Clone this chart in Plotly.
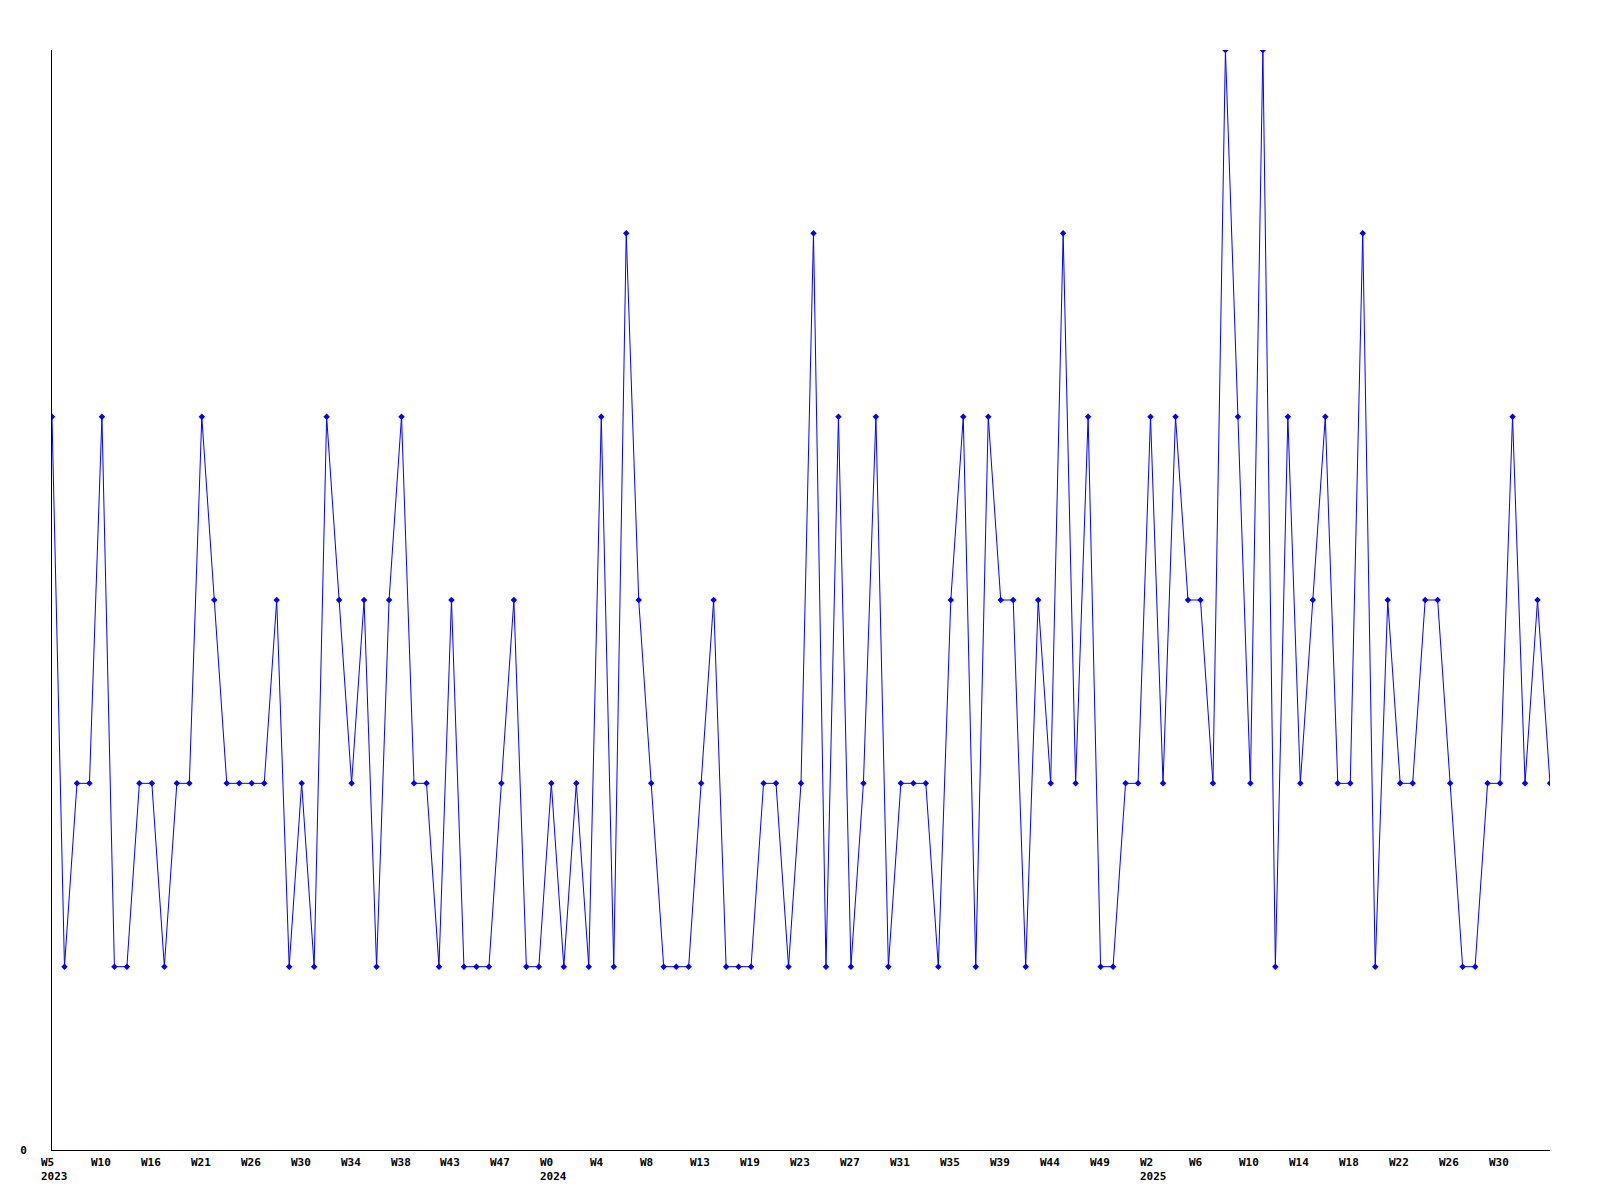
import plotly.graph_objects as go

values = [4, 1, 2, 2, 4, 1, 1, 2, 2, 1,
          2, 2, 4, 3, 2, 2, 2, 2, 3, 1,
          2, 1, 4, 3, 2, 3, 1, 3, 4, 2,
          2, 1, 3, 1, 1, 1, 2, 3, 1, 1,
          2, 1, 2, 1, 4, 1, 5, 3, 2, 1,
          1, 1, 2, 3, 1, 1, 1, 2, 2, 1,
          2, 5, 1, 4, 1, 2, 4, 1, 2, 2,
          2, 1, 3, 4, 1, 4, 3, 3, 1, 3,
          2, 5, 2, 4, 1, 1, 2, 2, 4, 2,
          4, 3, 3, 2, 6, 4, 2, 6, 1, 4,
          2, 3, 4, 2, 2, 5, 1, 3, 2, 2,
          3, 3, 2, 1, 1, 2, 2, 4, 2, 3,
          2]
x_index = list(range(len(values)))

week_labels = ["W5", "W10", "W16", "W21", "W26", "W30", "W34", "W38", "W43", "W47",
               "W0", "W4", "W8", "W13", "W19", "W23", "W27", "W31", "W35", "W39",
               "W44", "W49", "W2", "W6", "W10", "W14", "W18", "W22", "W26", "W30"]
year_labels = {0: "2023", 10: "2024", 22: "2025"}
label_step = 4  # points between consecutive labels

FONT = dict(family="DejaVu Sans Mono", size=11, color="black", weight="bold")

fig = go.Figure()
fig.add_trace(go.Scatter(
    x=x_index, y=values, mode="lines+markers",
    line=dict(color="#0000ff", width=1),
    marker=dict(symbol="diamond", size=5, color="#0000ff"),
    showlegend=False, hoverinfo="skip",
))

for i, lab in enumerate(week_labels):
    text = lab + ("<br>" + year_labels[i] if i in year_labels else "")
    fig.add_annotation(
        x=i * label_step, y=0, xref="x", yref="paper",
        text=text, showarrow=False, xanchor="left", yanchor="top",
        align="left", xshift=-13, yshift=-4, font=FONT,
    )

fig.update_layout(
    width=1600, height=1200,
    margin=dict(l=42, r=58, t=42, b=58, pad=0),
    paper_bgcolor="white", plot_bgcolor="white",
    font=FONT,
)
fig.update_xaxes(
    range=[0, len(values) - 1], showgrid=False, zeroline=False,
    showline=True, linecolor="black", linewidth=1,
    showticklabels=False, ticks="",
)
fig.update_yaxes(
    range=[0, 6], showgrid=False, zeroline=False,
    showline=True, linecolor="black", linewidth=1,
    tickvals=[0], ticktext=["0"], ticks="outside", ticklen=22,
    tickcolor="rgba(0,0,0,0)", tickfont=FONT,
)

fig.write_html("out.html")
